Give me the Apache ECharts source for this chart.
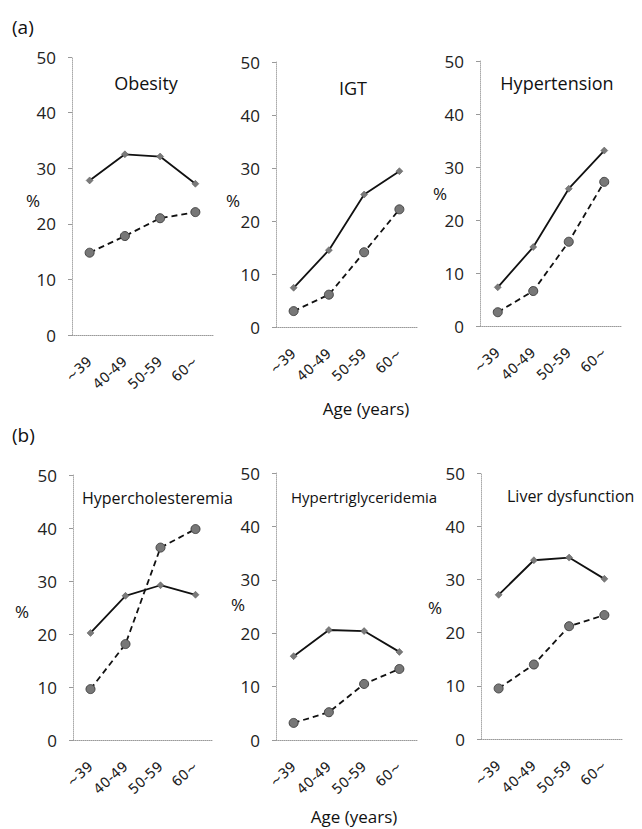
<!DOCTYPE html>
<html>
<head>
<meta charset="utf-8">
<script src="https://cdn.jsdelivr.net/npm/echarts@6/dist/echarts.min.js"></script>
<style>
html,body{margin:0;padding:0;background:#fff;}
#chart{width:642px;height:829px;}
</style>
</head>
<body>
<div id="chart"></div>
<script>
var categories = ['~39', '40-49', '50-59', '60~'];
var yTicks = [0, 10, 20, 30, 40, 50];

var obesitySolid = [27.8, 32.5, 32.1, 27.2];
var obesityDashed = [14.8, 17.8, 21.0, 22.1];
var igtSolid = [7.4, 14.5, 25.0, 29.4];
var igtDashed = [3.0, 6.1, 14.1, 22.2];
var hypertensionSolid = [7.3, 14.9, 25.9, 33.1];
var hypertensionDashed = [2.6, 6.6, 15.9, 27.2];
var hypercholSolid = [20.2, 27.2, 29.2, 27.4];
var hypercholDashed = [9.6, 18.1, 36.3, 39.8];
var hypertrigSolid = [15.7, 20.6, 20.4, 16.5];
var hypertrigDashed = [3.2, 5.2, 10.5, 13.3];
var liverSolid = [27.1, 33.6, 34.1, 30.1];
var liverDashed = [9.5, 14.0, 21.2, 23.3];

var panelTitles = ['Obesity', 'IGT', 'Hypertension', 'Hypercholesteremia', 'Hypertriglyceridemia', 'Liver dysfunction'];
var solidData = [obesitySolid, igtSolid, hypertensionSolid, hypercholSolid, hypertrigSolid, liverSolid];
var dashedData = [obesityDashed, igtDashed, hypertensionDashed, hypercholDashed, hypertrigDashed, liverDashed];

var FONT = '"Open Sans", "Noto Sans", sans-serif';
var XFONT = '"DejaVu Sans", "Open Sans", sans-serif';

var grids = [
  {left: 72, top: 57, width: 141, height: 278},
  {left: 276, top: 62, width: 141, height: 265},
  {left: 480, top: 61, width: 142, height: 265},
  {left: 73, top: 475, width: 140, height: 265},
  {left: 276, top: 473, width: 141, height: 267},
  {left: 481, top: 473, width: 141, height: 266}
];

var titleLayout = [
  {x: 146, y: 83, size: 18, align: 'center'},
  {x: 353, y: 88, size: 18, align: 'center'},
  {x: 557, y: 83, size: 18, align: 'center'},
  {x: 82, y: 498, size: 16, align: 'left'},
  {x: 291, y: 497, size: 15, align: 'left'},
  {x: 507, y: 496, size: 16, align: 'left'}
];
var pctLayout = [[33, 200], [233, 200], [440, 193], [22, 611], [238, 604], [435, 607]];

var xAxes = [], yAxes = [], series = [], graphics = [];
for (var i = 0; i < 6; i++) {
  xAxes.push({
    type: 'category', gridIndex: i, data: categories, boundaryGap: true,
    axisLine: {show: true, lineStyle: {color: '#9a9a9a', type: 'dotted', width: 1}},
    axisTick: {show: false},
    axisLabel: {rotate: 42, fontSize: 14, color: '#222', fontFamily: XFONT, margin: 24, interval: 0},
    splitLine: {show: false}
  });
  yAxes.push({
    type: 'value', gridIndex: i, min: yTicks[0], max: yTicks[yTicks.length - 1], interval: 10,
    axisLine: {show: true, lineStyle: {color: '#aaaaaa', type: 'dotted', width: 1}},
    axisTick: {show: true, length: 4, lineStyle: {color: '#999'}},
    axisLabel: {fontSize: 17, color: '#222', fontFamily: FONT, margin: 16},
    splitLine: {show: false}
  });
  series.push({
    type: 'line', xAxisIndex: i, yAxisIndex: i, data: solidData[i],
    symbol: 'diamond', symbolSize: 7,
    itemStyle: {color: '#7a7a7a', borderColor: '#555', borderWidth: 0.5},
    lineStyle: {color: '#111', width: 1.8, type: 'solid'},
    silent: true, animation: false
  });
  series.push({
    type: 'line', xAxisIndex: i, yAxisIndex: i, data: dashedData[i],
    symbol: 'circle', symbolSize: 9,
    itemStyle: {color: '#777', borderColor: '#444', borderWidth: 1},
    lineStyle: {color: '#111', width: 1.8, type: [6, 4]},
    silent: true, animation: false
  });
  var tl = titleLayout[i];
  graphics.push({
    type: 'text', x: tl.x, y: tl.y,
    style: {text: panelTitles[i], font: tl.size + 'px ' + FONT, fill: '#111', textAlign: tl.align, textVerticalAlign: 'middle'}
  });
  graphics.push({
    type: 'text', x: pctLayout[i][0], y: pctLayout[i][1],
    style: {text: '%', font: '17px ' + FONT, fill: '#111', textAlign: 'center', textVerticalAlign: 'middle'}
  });
}

graphics.push({type: 'text', x: 12, y: 27, style: {text: '(a)', font: '19px ' + FONT, fill: '#111', textAlign: 'left', textVerticalAlign: 'middle'}});
graphics.push({type: 'text', x: 12, y: 435, style: {text: '(b)', font: '19px ' + FONT, fill: '#111', textAlign: 'left', textVerticalAlign: 'middle'}});
graphics.push({type: 'text', x: 366, y: 408, style: {text: 'Age (years)', font: '17px ' + FONT, fill: '#111', textAlign: 'center', textVerticalAlign: 'middle'}});
graphics.push({type: 'text', x: 354, y: 816, style: {text: 'Age (years)', font: '17px ' + FONT, fill: '#111', textAlign: 'center', textVerticalAlign: 'middle'}});

var chart = echarts.init(document.getElementById('chart'), null, {renderer: 'svg'});
chart.setOption({
  animation: false,
  backgroundColor: '#fff',
  grid: grids,
  xAxis: xAxes,
  yAxis: yAxes,
  series: series,
  graphic: graphics
});
</script>
</body>
</html>
